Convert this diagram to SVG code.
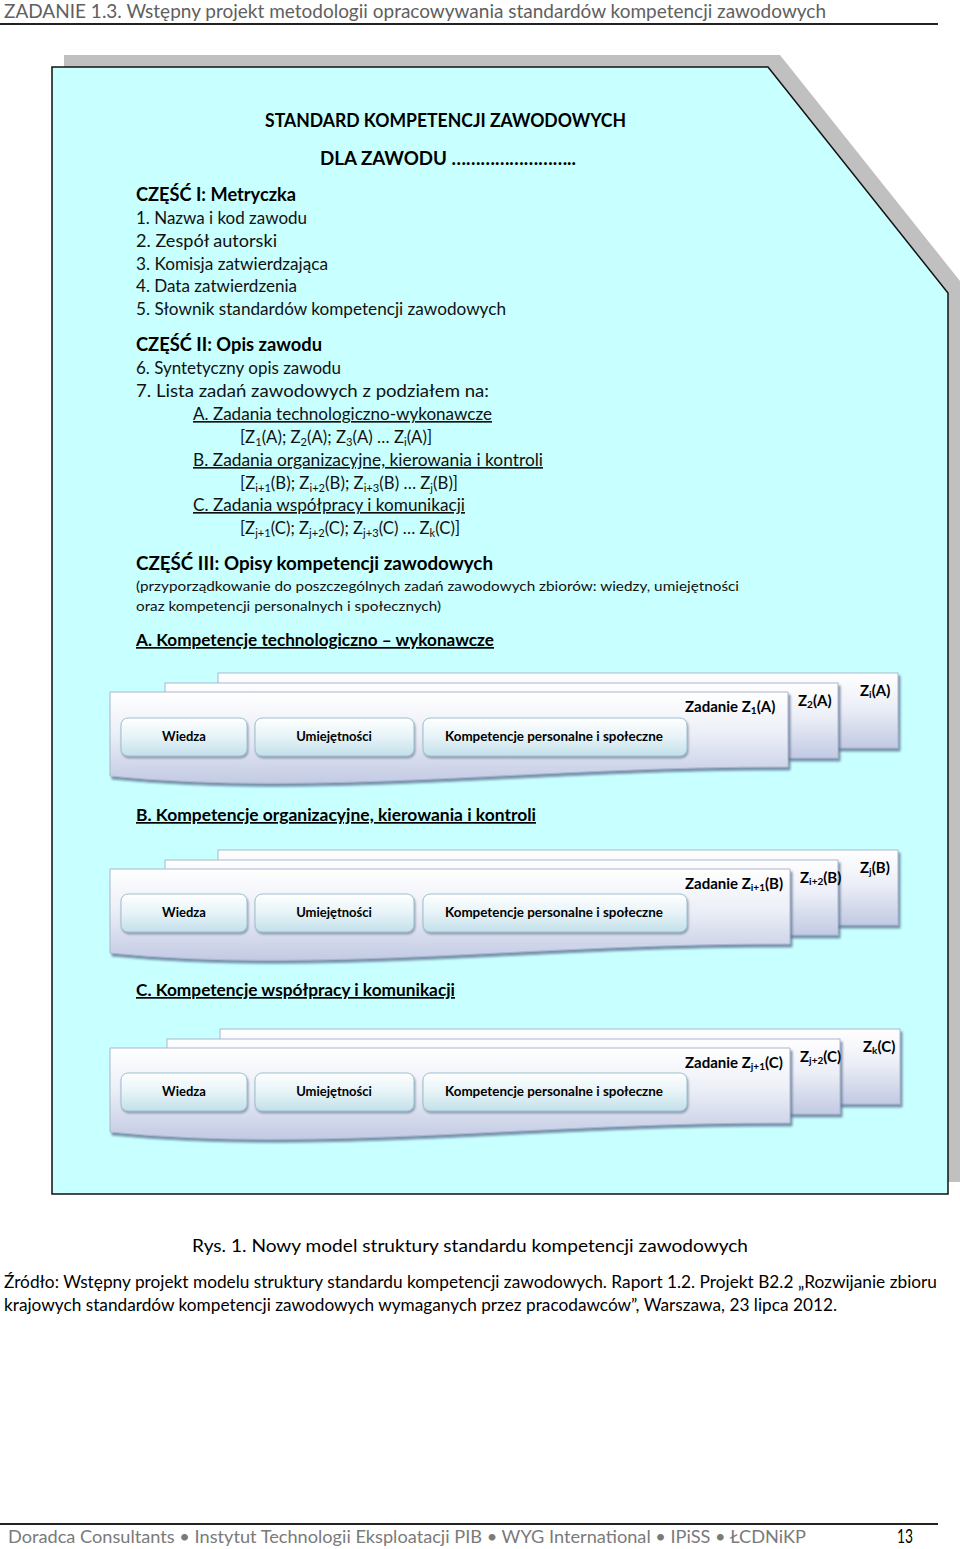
<svg xmlns="http://www.w3.org/2000/svg" width="960" height="1549" viewBox="0 0 960 1549">
<style>
  text { font-family: Lato, "Open Sans", "Liberation Sans", sans-serif; fill: #000; }
  .hdr { font-size: 20px; font-weight: 400; fill: #606060; }
  .ttl { font-size: 19px; font-weight: 700; }
  .h { font-size: 19px; font-weight: 700; }
  .it { font-size: 16.5px; fill: #111; }
  .sm { font-size: 14px; fill: #111; }
  .hu { font-size: 17px; font-weight: 700; text-decoration: underline; }
  .u { text-decoration: underline; }
  .btn { font-size: 13px; font-weight: 700; }
  .lbl { font-size: 15px; font-weight: 700; }
  .cap { font-size: 18px; }
  .src { font-size: 17px; }
  .ftr { font-size: 18px; font-weight: 400; fill: #7a7a7a; }
  .card { fill: url(#cardG); stroke: #a9b7d0; stroke-width: 1; filter: url(#cardSh); }
  .bt { fill: url(#btnG); stroke: #9cc0d0; stroke-width: 1; filter: url(#btnSh); }
</style>
<defs>
  <linearGradient id="cardG" x1="0" y1="0" x2="0" y2="1">
    <stop offset="0" stop-color="#ffffff"/>
    <stop offset="0.45" stop-color="#eceff7"/>
    <stop offset="1" stop-color="#c2cae3"/>
  </linearGradient>
  <linearGradient id="btnG" x1="0" y1="0" x2="0" y2="1">
    <stop offset="0" stop-color="#ffffff"/>
    <stop offset="0.5" stop-color="#e6f3f7"/>
    <stop offset="1" stop-color="#c3e0ea"/>
  </linearGradient>
  <filter id="cardSh" x="-5%" y="-20%" width="110%" height="150%">
    <feDropShadow dx="2" dy="3" stdDeviation="1" flood-color="#5f6f92" flood-opacity="0.75"/>
  </filter>
  <filter id="btnSh" x="-5%" y="-20%" width="110%" height="150%">
    <feDropShadow dx="1" dy="2" stdDeviation="1" flood-color="#6f8096" flood-opacity="0.7"/>
  </filter>
</defs>

<rect width="960" height="1549" fill="#ffffff"/>

<g id="page-header">
  <text class="hdr" x="4" y="18" textLength="822" lengthAdjust="spacingAndGlyphs">ZADANIE 1.3. Wstępny projekt metodologii opracowywania standardów kompetencji zawodowych</text>
  <line x1="0" y1="24" x2="938" y2="24" stroke="#222" stroke-width="2"/>
</g>

<g id="main-box">
  <path d="M64,55 H780 L960,281 V1182 H64 Z" fill="#c0c0c0"/>
  <path d="M52,67 H768 L948,293 V1194 H52 Z" fill="#c8ffff" stroke="#111" stroke-width="1.5"/>
</g>

<g id="title">
  <text class="ttl" x="265" y="127" textLength="361" lengthAdjust="spacingAndGlyphs">STANDARD KOMPETENCJI ZAWODOWYCH</text>
  <text class="ttl" x="320" y="165" textLength="256" lengthAdjust="spacingAndGlyphs">DLA ZAWODU ……………………..</text>
</g>

<g id="part-1">
  <text class="h" x="136" y="201" textLength="160" lengthAdjust="spacingAndGlyphs">CZĘŚĆ I: Metryczka</text>
  <text class="it" x="136" y="224" textLength="171" lengthAdjust="spacingAndGlyphs">1. Nazwa i kod zawodu</text>
  <text class="it" x="136" y="247" textLength="141" lengthAdjust="spacingAndGlyphs">2. Zespół autorski</text>
  <text class="it" x="136" y="270" textLength="192" lengthAdjust="spacingAndGlyphs">3. Komisja zatwierdzająca</text>
  <text class="it" x="136" y="292" textLength="161" lengthAdjust="spacingAndGlyphs">4. Data zatwierdzenia</text>
  <text class="it" x="136" y="315" textLength="370" lengthAdjust="spacingAndGlyphs">5. Słownik standardów kompetencji zawodowych</text>
</g>

<g id="part-2">
  <text class="h" x="136" y="351" textLength="186" lengthAdjust="spacingAndGlyphs">CZĘŚĆ II: Opis zawodu</text>
  <text class="it" x="136" y="374" textLength="205" lengthAdjust="spacingAndGlyphs">6. Syntetyczny opis zawodu</text>
  <text class="it" x="136" y="397" textLength="353" lengthAdjust="spacingAndGlyphs">7. Lista zadań zawodowych z podziałem na:</text>
  <text class="it u" x="193" y="420" textLength="299" lengthAdjust="spacingAndGlyphs">A. Zadania technologiczno-wykonawcze</text>
  <text class="it" x="240" y="443" textLength="192" lengthAdjust="spacingAndGlyphs">[Z<tspan font-size="11" dy="3">1</tspan><tspan dy="-3">(A); Z</tspan><tspan font-size="11" dy="3">2</tspan><tspan dy="-3">(A); Z</tspan><tspan font-size="11" dy="3">3</tspan><tspan dy="-3">(A) … Z</tspan><tspan font-size="11" dy="3">i</tspan><tspan dy="-3">(A)]</tspan></text>
  <text class="it u" x="193" y="466" textLength="350" lengthAdjust="spacingAndGlyphs">B. Zadania organizacyjne, kierowania i kontroli</text>
  <text class="it" x="240" y="489" textLength="218" lengthAdjust="spacingAndGlyphs">[Z<tspan font-size="11" dy="3">i+1</tspan><tspan dy="-3">(B); Z</tspan><tspan font-size="11" dy="3">i+2</tspan><tspan dy="-3">(B); Z</tspan><tspan font-size="11" dy="3">i+3</tspan><tspan dy="-3">(B) … Z</tspan><tspan font-size="11" dy="3">j</tspan><tspan dy="-3">(B)]</tspan></text>
  <text class="it u" x="193" y="511" textLength="272" lengthAdjust="spacingAndGlyphs">C. Zadania współpracy i komunikacji</text>
  <text class="it" x="240" y="534" textLength="220" lengthAdjust="spacingAndGlyphs">[Z<tspan font-size="11" dy="3">j+1</tspan><tspan dy="-3">(C); Z</tspan><tspan font-size="11" dy="3">j+2</tspan><tspan dy="-3">(C); Z</tspan><tspan font-size="11" dy="3">j+3</tspan><tspan dy="-3">(C) … Z</tspan><tspan font-size="11" dy="3">k</tspan><tspan dy="-3">(C)]</tspan></text>
</g>

<g id="part-3">
  <text class="h" x="136" y="570" textLength="357" lengthAdjust="spacingAndGlyphs">CZĘŚĆ III: Opisy kompetencji zawodowych</text>
  <text class="sm" x="136" y="591" textLength="603" lengthAdjust="spacingAndGlyphs">(przyporządkowanie do poszczególnych zadań zawodowych zbiorów: wiedzy, umiejętności</text>
  <text class="sm" x="136" y="611" textLength="305" lengthAdjust="spacingAndGlyphs">oraz kompetencji personalnych i społecznych)</text>
</g>

<g id="section-A">
  <text class="hu" x="136" y="646" textLength="358" lengthAdjust="spacingAndGlyphs">A. Kompetencje technologiczno – wykonawcze</text>
  <g id="card-A-i">
    <rect class="card" x="218" y="673" width="680" height="75"/>
    <text class="lbl" x="860" y="696">Z<tspan font-size="10" dy="2">i</tspan><tspan dy="-2">(A)</tspan></text>
  </g>
  <g id="card-A-2">
    <rect class="card" x="165" y="683" width="673" height="75"/>
    <text class="lbl" x="798" y="706">Z<tspan font-size="10" dy="2">2</tspan><tspan dy="-2">(A)</tspan></text>
  </g>
  <g id="card-A-1">
    <path class="card" d="M110,692 H788 V767 C540,766 320,797 110,776 Z"/>
    <text class="lbl" x="685" y="712">Zadanie Z<tspan font-size="10" dy="2">1</tspan><tspan dy="-2">(A)</tspan></text>
    <g id="btn-A-wiedza"><rect class="bt" x="121" y="718" width="126" height="38" rx="7"/><text class="btn" x="184" y="741" text-anchor="middle">Wiedza</text></g>
    <g id="btn-A-umiejetnosci"><rect class="bt" x="255" y="718" width="159" height="38" rx="7"/><text class="btn" x="334" y="741" text-anchor="middle">Umiejętności</text></g>
    <g id="btn-A-kompetencje"><rect class="bt" x="423" y="718" width="264" height="38" rx="7"/><text class="btn" x="445" y="741" textLength="218" lengthAdjust="spacingAndGlyphs">Kompetencje personalne i społeczne</text></g>
  </g>
</g>

<g id="section-B">
  <text class="hu" x="136" y="821" textLength="400" lengthAdjust="spacingAndGlyphs">B. Kompetencje organizacyjne, kierowania i kontroli</text>
  <g transform="translate(0,177)">
    <g id="card-B-j">
      <rect class="card" x="218" y="673" width="680" height="75"/>
      <text class="lbl" x="860" y="696">Z<tspan font-size="10" dy="2">j</tspan><tspan dy="-2">(B)</tspan></text>
    </g>
    <g id="card-B-i2">
      <rect class="card" x="165" y="683" width="673" height="75"/>
      <text class="lbl" x="800" y="706">Z<tspan font-size="10" dy="2">i+2</tspan><tspan dy="-2">(B)</tspan></text>
    </g>
    <g id="card-B-i1">
      <path class="card" d="M110,692 H790 V767 C540,766 320,797 110,776 Z"/>
      <text class="lbl" x="685" y="712">Zadanie Z<tspan font-size="10" dy="2">i+1</tspan><tspan dy="-2">(B)</tspan></text>
      <g id="btn-B-wiedza"><rect class="bt" x="121" y="717" width="126" height="38" rx="7"/><text class="btn" x="184" y="740" text-anchor="middle">Wiedza</text></g>
      <g id="btn-B-umiejetnosci"><rect class="bt" x="255" y="717" width="159" height="38" rx="7"/><text class="btn" x="334" y="740" text-anchor="middle">Umiejętności</text></g>
      <g id="btn-B-kompetencje"><rect class="bt" x="423" y="717" width="264" height="38" rx="7"/><text class="btn" x="445" y="740" textLength="218" lengthAdjust="spacingAndGlyphs">Kompetencje personalne i społeczne</text></g>
    </g>
  </g>
</g>

<g id="section-C">
  <text class="hu" x="136" y="996" textLength="319" lengthAdjust="spacingAndGlyphs">C. Kompetencje współpracy i komunikacji</text>
  <g transform="translate(0,356)">
    <g id="card-C-k">
      <rect class="card" x="220" y="673" width="680" height="75"/>
      <text class="lbl" x="863" y="696">Z<tspan font-size="10" dy="2">k</tspan><tspan dy="-2">(C)</tspan></text>
    </g>
    <g id="card-C-j2">
      <rect class="card" x="167" y="683" width="673" height="75"/>
      <text class="lbl" x="800" y="706">Z<tspan font-size="10" dy="2">j+2</tspan><tspan dy="-2">(C)</tspan></text>
    </g>
    <g id="card-C-j1">
      <path class="card" d="M110,692 H790 V767 C540,766 320,797 110,776 Z"/>
      <text class="lbl" x="685" y="712">Zadanie Z<tspan font-size="10" dy="2">j+1</tspan><tspan dy="-2">(C)</tspan></text>
      <g id="btn-C-wiedza"><rect class="bt" x="121" y="717" width="126" height="38" rx="7"/><text class="btn" x="184" y="740" text-anchor="middle">Wiedza</text></g>
      <g id="btn-C-umiejetnosci"><rect class="bt" x="255" y="717" width="159" height="38" rx="7"/><text class="btn" x="334" y="740" text-anchor="middle">Umiejętności</text></g>
      <g id="btn-C-kompetencje"><rect class="bt" x="423" y="717" width="264" height="38" rx="7"/><text class="btn" x="445" y="740" textLength="218" lengthAdjust="spacingAndGlyphs">Kompetencje personalne i społeczne</text></g>
    </g>
  </g>
</g>

<g id="caption">
  <text class="cap" x="192" y="1252" textLength="556" lengthAdjust="spacingAndGlyphs">Rys. 1. Nowy model struktury standardu kompetencji zawodowych</text>
  <text class="src" x="4" y="1288" textLength="933" lengthAdjust="spacingAndGlyphs">Źródło: Wstępny projekt modelu struktury standardu kompetencji zawodowych. Raport 1.2. Projekt B2.2 „Rozwijanie zbioru</text>
  <text class="src" x="4" y="1311" textLength="833" lengthAdjust="spacingAndGlyphs">krajowych standardów kompetencji zawodowych wymaganych przez pracodawców”, Warszawa, 23 lipca 2012.</text>
</g>

<g id="page-footer">
  <line x1="0" y1="1524" x2="938" y2="1524" stroke="#222" stroke-width="2"/>
  <text class="ftr" x="8" y="1543" textLength="798" lengthAdjust="spacingAndGlyphs">Doradca Consultants • Instytut Technologii Eksploatacji PIB • WYG International • IPiSS • ŁCDNiKP</text>
  <text x="897" y="1543" font-family="'Liberation Serif', serif" font-size="19" textLength="16" lengthAdjust="spacingAndGlyphs">13</text>
</g>
</svg>
